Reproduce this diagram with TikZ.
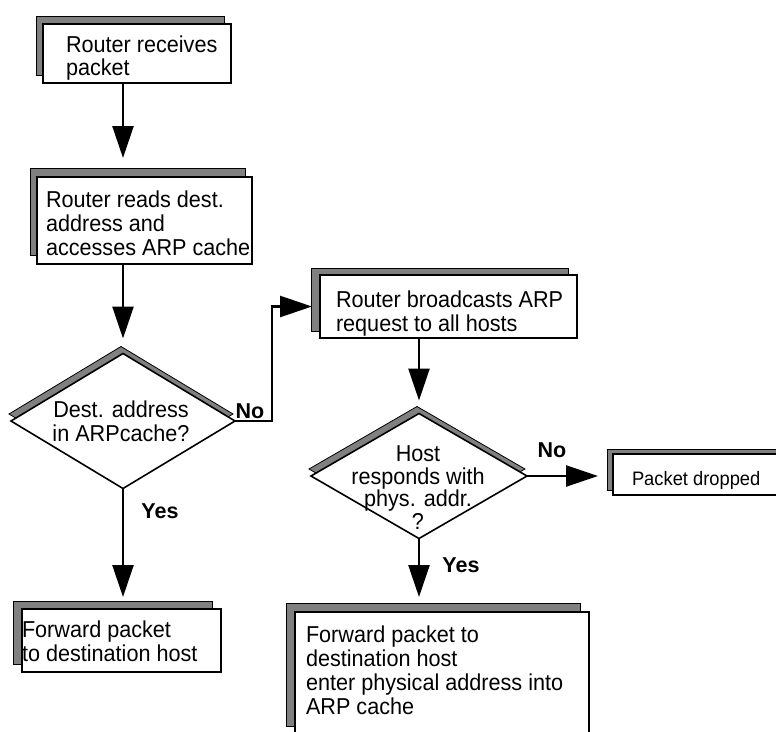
\documentclass[tikz,border=0pt]{standalone}
\usepackage{fontspec}
\setmainfont{Liberation Sans}
\newfontfamily\narrowsans[FakeStretch=0.94]{Liberation Sans}
\usetikzlibrary{shapes.geometric,shadows,arrows.meta}
\definecolor{shgray}{gray}{0.5}

\begin{document}
\begin{tikzpicture}[x=1pt,y=-1pt,
  sh/.style 2 args={general shadow={fill=shgray, draw=black, line width=0.8pt,
      shadow xshift=#1, shadow yshift=#2}},
  procbox/.style={rectangle, draw=black, line width=2pt, fill=white,
      anchor=north west, inner sep=0pt, outer sep=0pt},
  decision/.style={diamond, draw=black, line width=1.6pt, fill=white,
      inner sep=0pt, outer sep=0pt, sh={-2pt}{7pt}},
  txt/.style={inner sep=0pt, outer sep=0pt, align=left, anchor=north west,
      font=\narrowsans\fontsize{23}{24}\selectfont},
  dtxt/.style={inner sep=0pt, outer sep=0pt, align=center, anchor=north,
      font=\narrowsans\fontsize{23}{24}\selectfont},
  lbl/.style={inner sep=0pt, outer sep=0pt, anchor=base,
      font=\bfseries\fontsize{21.5}{24}\selectfont},
  conn/.style={draw=black, line width=2.5pt, -{Triangle[length=32pt,width=21pt]}},
]
\useasboundingbox[fill=white] (0,0) rectangle (776,731);
\clip (0,0) rectangle (776,731);

% process boxes
\node[procbox, sh={-7pt}{8pt}, minimum width=188pt, minimum height=59pt] (b1) at (43,24) {};
\node[procbox, sh={-7pt}{9pt}, minimum width=215pt, minimum height=87pt] (b2) at (37,177) {};
\node[procbox, sh={-9pt}{7pt}, minimum width=257pt, minimum height=63pt] (b3) at (320,275) {};
\node[procbox, sh={-6pt}{5pt}, minimum width=180pt, minimum height=41pt] (b4) at (613,454) {};
\node[procbox, sh={-9pt}{8pt}, minimum width=199pt, minimum height=63pt] (b5) at (22,609) {};
\node[procbox, sh={-9pt}{9pt}, minimum width=294pt, minimum height=123pt] (b6) at (295,612) {};

% decisions
\node[decision, minimum width=224pt, minimum height=135pt] (d1) at (123,421) {};
\node[decision, minimum width=216pt, minimum height=125pt] (d2) at (419,476) {};

% texts
\node[txt, font=\narrowsans\fontsize{23}{23}\selectfont] (t1) at (66,36) {Router receives\\packet};
\node[txt] (t2) at (46,191) {Router reads dest.\\address and\\accesses ARP cache};
\node[txt] (t3) at (336,291) {Router broadcasts ARP\\request to all hosts};
\node[txt, font=\narrowsans\fontsize{19.5}{22}\selectfont] (t4) at (632,471) {Packet dropped};
\node[txt] (t5) at (22,621) {Forward packet\\to destination host};
\node[txt] (t6) at (306,626) {Forward packet to\\destination host\\enter physical address into\\ARP cache};
\node[dtxt] (q1) at (121,401) {Dest. address\\in ARPcache?};
\node[dtxt, font=\narrowsans\fontsize{23}{22.5}\selectfont] (q2) at (418,446) {Host\\responds with\\phys. addr.\\?};

% branch labels
\node[lbl] (no1) at (250,418) {No};
\node[lbl] (no2) at (552,457) {No};
\node[lbl] (yes1) at (160,518) {Yes};
\node[lbl] (yes2) at (461,572) {Yes};

% connectors
\draw[conn, shorten >=19pt] (b1.south -| d1.north) -- (b2.north -| d1.north);
\draw[conn, shorten >=15pt] (b2.south -| d1.north) -- (d1.north);
\draw[conn, shorten >=8pt] (d1.east) -- ++(37,0) |- (b3.west);
\draw[conn, shorten >=13pt] (b3.south -| d2.north) -- (d2.north);
\draw[conn, shorten >=15pt] (d2.east) -- (d2.east -| b4.west);
\draw[conn, shorten >=12pt] (d1.south) -- (d1.south |- b5.north);
\draw[conn, shorten >=15pt] (d2.south) -- (d2.south |- b6.north);
\end{tikzpicture}
\end{document}
